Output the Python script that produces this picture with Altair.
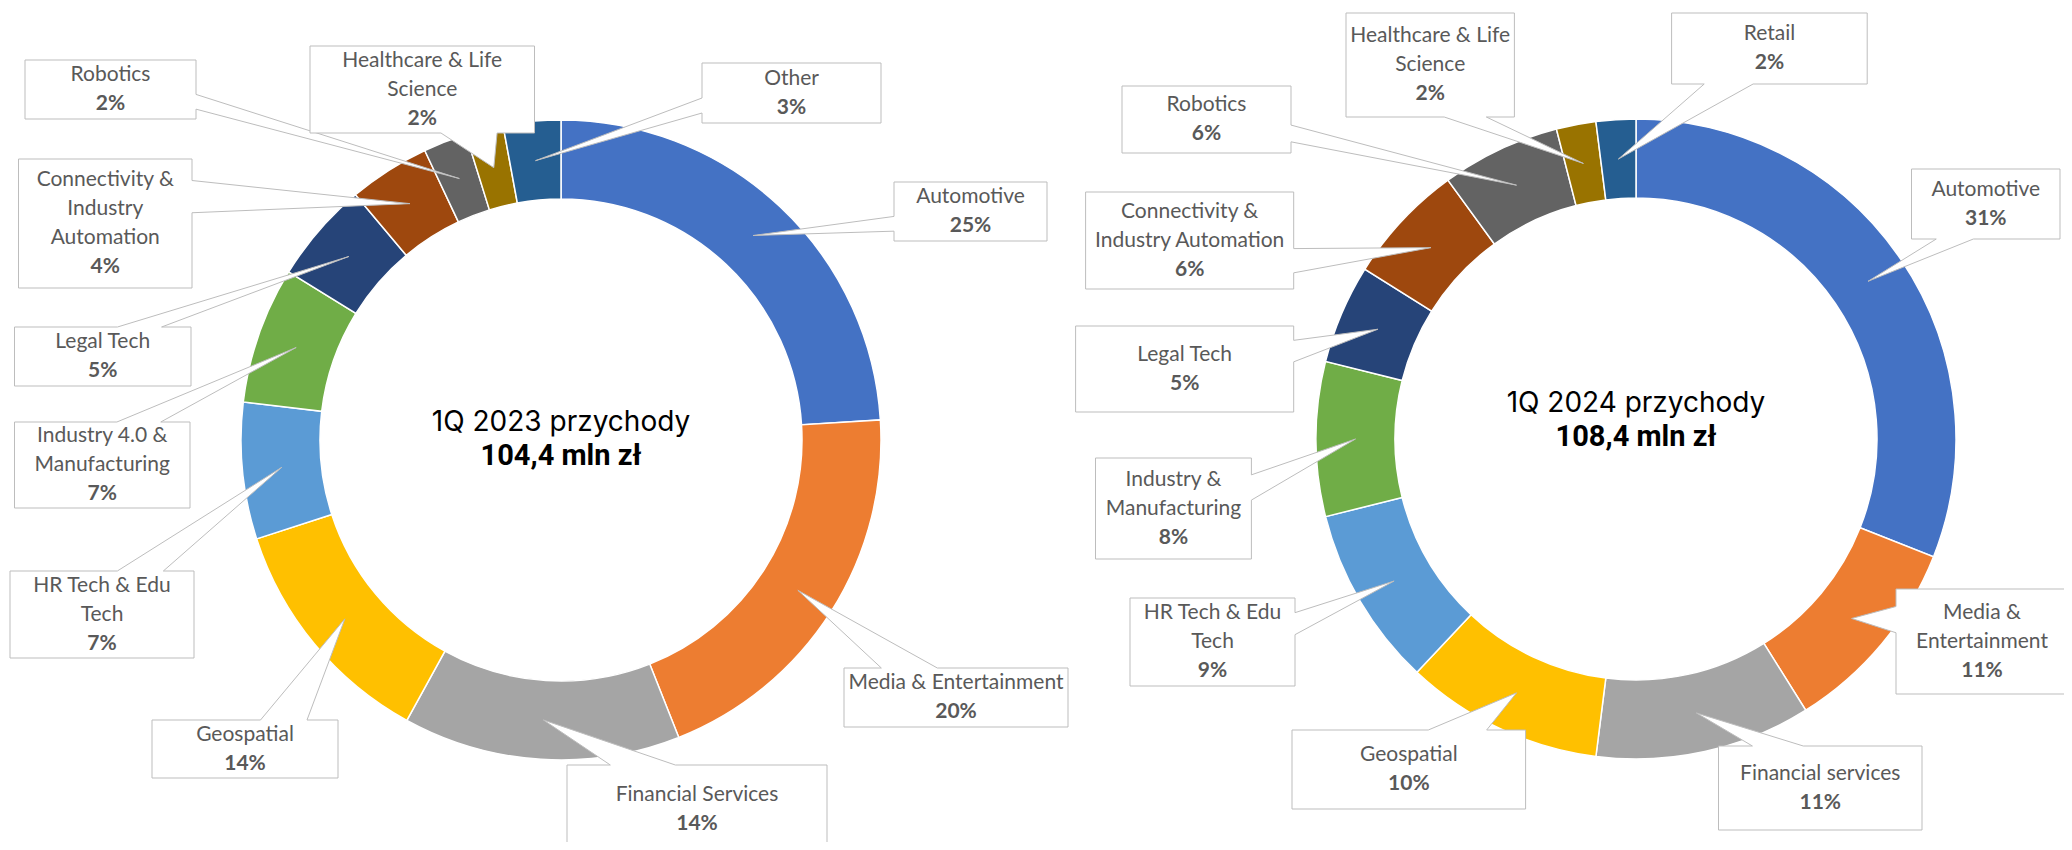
import math
import altair as alt
import pandas as pd

# ---------------- data ----------------
cats_2023 = ["Automotive", "Media & Entertainment", "Financial Services", "Geospatial",
             "HR Tech & Edu Tech", "Industry 4.0 & Manufacturing", "Legal Tech",
             "Connectivity & Industry Automation", "Robotics", "Healthcare & Life Science", "Other"]
vals_2023 = [24.0, 20.0, 14.0, 12.0, 6.9, 6.9, 5.1, 4.1, 2.2, 1.9, 2.9]
pct_2023 = ["25%", "20%", "14%", "14%", "7%", "7%", "5%", "4%", "2%", "2%", "3%"]
lines_2023 = [["Automotive"], ["Media & Entertainment"], ["Financial Services"], ["Geospatial"],
              ["HR Tech & Edu", "Tech"], ["Industry 4.0 &", "Manufacturing"], ["Legal Tech"],
              ["Connectivity &", "Industry", "Automation"], ["Robotics"],
              ["Healthcare & Life", "Science"], ["Other"]]

cats_2024 = ["Automotive", "Media & Entertainment", "Financial services", "Geospatial",
             "HR Tech & Edu Tech", "Industry & Manufacturing", "Legal Tech",
             "Connectivity & Industry Automation", "Robotics", "Healthcare & Life Science", "Retail"]
vals_2024 = [31.0, 10.1, 10.9, 10.0, 9.1, 7.8, 5.0, 6.1, 6.0, 2.0, 2.0]
pct_2024 = ["31%", "11%", "11%", "10%", "9%", "8%", "5%", "6%", "6%", "2%", "2%"]
lines_2024 = [["Automotive"], ["Media &", "Entertainment"], ["Financial services"], ["Geospatial"],
              ["HR Tech & Edu", "Tech"], ["Industry &", "Manufacturing"], ["Legal Tech"],
              ["Connectivity &", "Industry Automation"], ["Robotics"],
              ["Healthcare & Life", "Science"], ["Retail"]]

colors = ["#4472C4", "#ED7D31", "#A5A5A5", "#FFC000", "#5B9BD5", "#70AD47",
          "#264478", "#9E480E", "#636363", "#997300", "#255E91"]

titles = ["1Q 2023 przychody", "1Q 2024 przychody"]
totals = ["104,4 mln zł", "108,4 mln zł"]

# ---------------- layout (page pixels) ----------------
OFF = 8
W, H = 2056, 834
R_OUT, R_IN = 320, 241
centers = [(561, 440), (1636, 439)]
title_base = [(431, 465), (412, 446)]
boxes_2023 = [(894, 182, 1047, 241), (844, 668, 1068, 727), (567, 765, 827, 853),
              (152, 720, 338, 778), (10, 571, 194, 658), (14.5, 422, 190, 508),
              (14.5, 327, 191, 386), (18.5, 159, 192, 288), (25, 60, 196, 119),
              (310, 46, 534.5, 133), (702, 63, 881, 123)]
boxes_2024 = [(1911.5, 169, 2060, 239), (1896, 589, 2068, 694), (1718.5, 746, 1922, 830),
              (1292, 730, 1525.6, 809), (1130, 598, 1295, 686), (1095.5, 458, 1251.4, 559),
              (1075.6, 326, 1293.7, 412), (1085.6, 192, 1293.7, 289), (1122, 86, 1291, 153),
              (1346, 13, 1514.4, 117), (1671.6, 13, 1867.2, 84)]
LINE_H = 29
LABEL_FONT = "Lato"
LABEL_SIZE = 21
TITLE_FONT = "Inter"
TOTAL_FONT = "Roboto"


def tips(vals, center):
    total = sum(vals)
    cum = 0.0
    out = []
    rm = (R_IN + R_OUT) / 2
    for v in vals:
        mid = (cum + v / 2) / total * 2 * math.pi
        cum += v
        out.append((center[0] - OFF + rm * math.sin(mid), center[1] - OFF - rm * math.cos(mid)))
    return out


def callout(box, tip):
    x0, y0, x1, y1 = [b - OFF for b in box]
    tx, ty = tip
    w, h = x1 - x0, y1 - y0
    cx, cy = (x0 + x1) / 2, (y0 + y1) / 2
    dx, dy = tx - cx, ty - cy
    if abs(dy) > abs(dx) * h / w:
        fr = (2 / 12, 5 / 12) if dx < 0 else (7 / 12, 10 / 12)
        b1, b2 = x0 + w * fr[0], x0 + w * fr[1]
        if dy < 0:
            pts = [(x0, y0), (b1, y0), (tx, ty), (b2, y0), (x1, y0), (x1, y1), (x0, y1)]
        else:
            pts = [(x0, y0), (x1, y0), (x1, y1), (b2, y1), (tx, ty), (b1, y1), (x0, y1)]
    else:
        fr = (2 / 12, 5 / 12) if dy < 0 else (7 / 12, 10 / 12)
        b1, b2 = y0 + h * fr[0], y0 + h * fr[1]
        if dx < 0:
            pts = [(x0, y0), (x1, y0), (x1, y1), (x0, y1), (x0, b2), (tx, ty), (x0, b1)]
        else:
            pts = [(x0, y0), (x1, y0), (x1, b1), (tx, ty), (x1, b2), (x1, y1), (x0, y1)]
    pts = [list(p) for p in pts] + [list(pts[0])]
    return {"type": "Feature", "properties": {}, "geometry": {"type": "Polygon", "coordinates": [pts]}}


features = []
text_rows = []
for vals, boxes, lines, pcts, center in [(vals_2023, boxes_2023, lines_2023, pct_2023, centers[0]),
                                         (vals_2024, boxes_2024, lines_2024, pct_2024, centers[1])]:
    tp = tips(vals, center)
    for i in range(len(vals)):
        features.append(callout(boxes[i], tp[i]))
        x0, y0, x1, y1 = [b - OFF for b in boxes[i]]
        allx = lines[i] + [pcts[i]]
        n = len(allx)
        cxb, cyb = (x0 + x1) / 2, (y0 + y1) / 2
        for j, t in enumerate(allx):
            text_rows.append({"px": cxb, "py": cyb + (j - (n - 1) / 2) * LINE_H,
                              "t": t, "bold": j == n - 1})
text_df = pd.DataFrame(text_rows)

layers = []
for k, (cats, vals) in enumerate([(cats_2023, vals_2023), (cats_2024, vals_2024)]):
    df = pd.DataFrame({"cat": cats, "value": vals, "color": colors, "idx": list(range(len(cats)))})
    layers.append(
        alt.Chart(df).mark_arc(innerRadius=R_IN, outerRadius=R_OUT, stroke="white", strokeWidth=1.5)
        .encode(theta=alt.Theta("value:Q", stack=True),
                color=alt.Color("color:N", scale=None),
                order=alt.Order("idx:Q"),
                x=alt.value(centers[k][0] - OFF), y=alt.value(centers[k][1] - OFF))
    )

geo = alt.InlineData(values={"type": "FeatureCollection", "features": features},
                     format=alt.DataFormat(property="features", type="json"))
callouts = alt.Chart(geo).mark_geoshape(fill="white", stroke="#BDBDBD", strokeWidth=1).project(
    type="identity", scale=1, translate=[0, 0])

reg = alt.Chart(text_df).transform_filter("!datum.bold").mark_text(
    font=LABEL_FONT, fontSize=LABEL_SIZE, color="#595959", baseline="middle", align="center").encode(
    x=alt.X("px:Q", scale=None, axis=None), y=alt.Y("py:Q", scale=None, axis=None), text="t:N")
bold = alt.Chart(text_df).transform_filter("datum.bold").mark_text(
    font=LABEL_FONT, fontSize=LABEL_SIZE, fontWeight="bold", color="#595959", baseline="middle",
    align="center").encode(
    x=alt.X("px:Q", scale=None, axis=None), y=alt.Y("py:Q", scale=None, axis=None), text="t:N")

tdf = pd.DataFrame({"title": titles, "total": totals,
                    "px": [c[0] - OFF for c in centers],
                    "y1": [b[0] - OFF for b in title_base],
                    "y2": [b[1] - OFF for b in title_base]})
t1 = alt.Chart(tdf).mark_text(font=TITLE_FONT, fontSize=28, color="#000000", baseline="alphabetic",
                              align="center").encode(
    x=alt.X("px:Q", scale=None, axis=None), y=alt.Y("y1:Q", scale=None, axis=None), text="title:N")
t2 = alt.Chart(tdf).mark_text(font=TOTAL_FONT, fontSize=29, fontWeight="bold", color="#000000",
                              baseline="alphabetic", align="center").encode(
    x=alt.X("px:Q", scale=None, axis=None), y=alt.Y("y2:Q", scale=None, axis=None), text="total:N")

chart = alt.layer(*layers, callouts, reg, bold, t1, t2).resolve_scale(theta="independent").properties(
    width=W, height=H, autosize="none", padding=0
).configure_view(stroke=None)

chart.save("out.html", embed_options={"renderer": "svg", "actions": False})
